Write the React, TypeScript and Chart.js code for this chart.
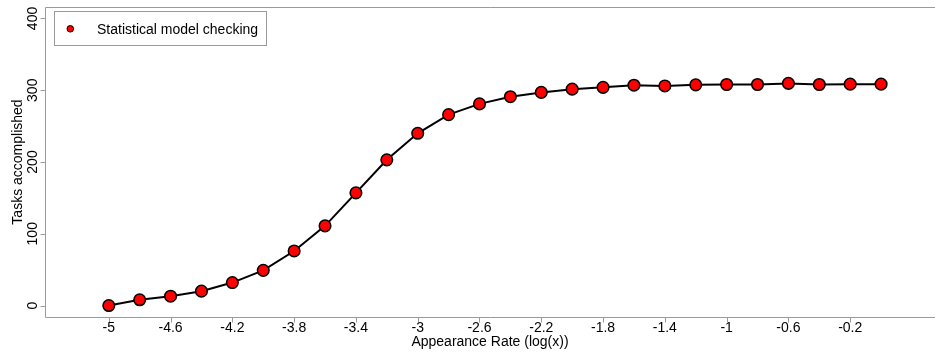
import React, { useEffect, useRef } from "react";
import { Chart, registerables } from "chart.js";

Chart.register(...registerables);

// ---- data ----
const appearanceRate = [
  -5, -4.8, -4.6, -4.4, -4.2, -4, -3.8, -3.6, -3.4, -3.2, -3, -2.8, -2.6,
  -2.4, -2.2, -2, -1.8, -1.6, -1.4, -1.2, -1, -0.8, -0.6, -0.4, -0.2, 0,
];
const tasksAccomplished = [
  0, 8, 13, 20, 32, 49, 76, 111, 157, 203, 240, 266, 281, 291, 297, 301.5,
  304, 307, 306, 307.5, 308, 308, 309.5, 308, 308.5, 308.5,
];
const xTickValues = [-5, -4.6, -4.2, -3.8, -3.4, -3, -2.6, -2.2, -1.8, -1.4, -1, -0.6, -0.2];
const xTickLabels = ["-5", "-4.6", "-4.2", "-3.8", "-3.4", "-3", "-2.6", "-2.2", "-1.8", "-1.4", "-1", "-0.6", "-0.2"];
const yTickValues = [0, 100, 200, 300, 400];
const yTickLabels = ["0", "100", "200", "300", "400"];
const seriesName = "Statistical model checking";
const xAxisTitle = "Appearance Rate (log(x))";
const yAxisTitle = "Tasks accomplished";

const FONT = '14px "Liberation Sans", Arial, Helvetica, sans-serif';
const AXIS_COLOR = "#9a9a9a";
const TEXT_COLOR = "#000000";

const rAxesPlugin = {
  id: "rStyleAxes",
  beforeDatasetsDraw(chart: any) {
    const { ctx, chartArea: a, scales } = chart;
    const x = scales.x;
    const y = scales.y;
    ctx.save();
    ctx.strokeStyle = AXIS_COLOR;
    ctx.lineWidth = 1;
    const lx = Math.round(a.left) + 0.5;
    const by = Math.round(a.bottom) + 0.5;
    const ty = Math.round(a.top) + 0.5;
    ctx.beginPath();
    // top line
    ctx.moveTo(lx, ty);
    ctx.lineTo(a.right, ty);
    // left axis
    ctx.moveTo(lx, ty);
    ctx.lineTo(lx, by);
    // bottom axis
    ctx.lineTo(a.right, by);
    // x tick marks
    xTickValues.forEach((v) => {
      const px = Math.round(x.getPixelForValue(v)) + 0.5;
      ctx.moveTo(px, by);
      ctx.lineTo(px, by + 5);
    });
    // y tick marks
    yTickValues.forEach((v) => {
      const py = Math.round(y.getPixelForValue(v)) + 0.5;
      ctx.moveTo(lx, py);
      ctx.lineTo(lx - 5, py);
    });
    ctx.stroke();

    ctx.fillStyle = TEXT_COLOR;
    ctx.font = FONT;
    ctx.textAlign = "center";
    ctx.textBaseline = "alphabetic";
    xTickValues.forEach((v, i) => {
      ctx.fillText(xTickLabels[i], x.getPixelForValue(v), by + 14);
    });
    ctx.fillText(xAxisTitle, (a.left + a.right) / 2, by + 28);

    yTickValues.forEach((v, i) => {
      ctx.save();
      ctx.translate(37, y.getPixelForValue(v));
      ctx.rotate(-Math.PI / 2);
      ctx.fillText(yTickLabels[i], 0, 0);
      ctx.restore();
    });
    ctx.save();
    ctx.translate(22, (a.top + a.bottom) / 2);
    ctx.rotate(-Math.PI / 2);
    ctx.fillText(yAxisTitle, 0, 0);
    ctx.restore();
    ctx.restore();
  },
  afterDatasetsDraw(chart: any) {
    const { ctx } = chart;
    const ds = chart.data.datasets[0];
    ctx.save();
    ctx.strokeStyle = AXIS_COLOR;
    ctx.lineWidth = 1;
    ctx.strokeRect(54.5, 11.5, 212, 34);
    ctx.beginPath();
    ctx.arc(70.3, 28.8, 3.3, 0, Math.PI * 2);
    ctx.fillStyle = ds.pointBackgroundColor;
    ctx.fill();
    ctx.lineWidth = 1;
    ctx.strokeStyle = ds.pointBorderColor;
    ctx.stroke();
    ctx.fillStyle = TEXT_COLOR;
    ctx.font = FONT;
    ctx.textAlign = "left";
    ctx.textBaseline = "alphabetic";
    ctx.fillText(ds.label, 97, 34);
    ctx.restore();
  },
};

export default function App() {
  const canvasRef = useRef<HTMLCanvasElement | null>(null);

  useEffect(() => {
    const canvas = canvasRef.current;
    if (!canvas) return;
    const chart = new Chart(canvas, {
      type: "line",
      data: {
        datasets: [
          {
            label: seriesName,
            data: appearanceRate.map((v, i) => ({ x: v, y: tasksAccomplished[i] })),
            borderColor: "#000000",
            borderWidth: 2,
            backgroundColor: "#ff0000",
            pointBackgroundColor: "#ff0000",
            pointBorderColor: "#000000",
            pointBorderWidth: 1.5,
            pointRadius: 5.8,
            tension: 0,
            fill: false,
            clip: false as any,
          },
        ],
      },
      options: {
        animation: false,
        responsive: false,
        devicePixelRatio: 1,
        layout: { autoPadding: false, padding: { left: 45, top: 7, right: 0, bottom: 36 } },
        plugins: {
          legend: { display: false },
          tooltip: { enabled: false },
        },
        events: [],
        scales: {
          x: { type: "linear", min: -5.413, max: 0.349, display: false },
          y: { type: "linear", min: -16, max: 416, display: false },
        },
      },
      plugins: [rAxesPlugin],
    });
    return () => chart.destroy();
  }, []);

  return (
    <div style={{ position: "fixed", left: 0, top: 0, width: 935, height: 353, background: "#ffffff" }}>
      <canvas ref={canvasRef} width={935} height={353} style={{ width: 935, height: 353, display: "block" }} />
    </div>
  );
}
